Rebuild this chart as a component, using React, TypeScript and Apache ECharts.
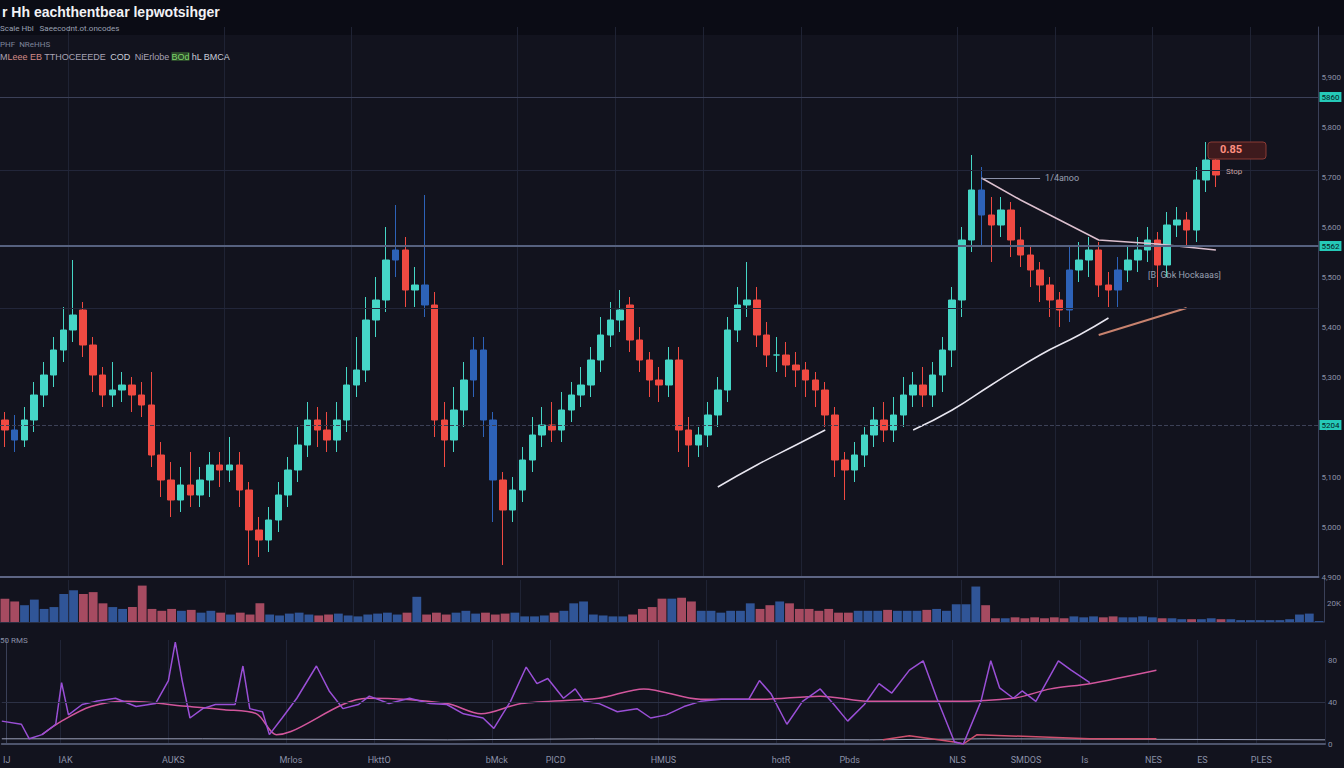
import { useEffect, useRef } from "react";
import * as echarts from "echarts";

// ---------- DATA ----------
const closes = [
  5194, 5174, 5214, 5264, 5304, 5354, 5394, 5424, 5364, 5304,
  5264, 5274, 5284, 5264, 5244, 5144, 5094, 5054, 5084, 5064,
  5094, 5124, 5114, 5124, 5074, 4994, 4974, 5014, 5064, 5114,
  5164, 5214, 5194, 5174, 5214, 5284, 5314, 5414, 5454, 5534,
  5554, 5474, 5484, 5444, 5214, 5174, 5234, 5294, 5354, 5214,
  5094, 5034, 5074, 5134, 5184, 5204, 5194, 5234, 5264, 5284,
  5334, 5384, 5414, 5434, 5374, 5334, 5294, 5284, 5334, 5194,
  5164, 5184, 5224, 5274, 5394, 5444, 5454, 5384, 5344, 5344,
  5324, 5314, 5294, 5274, 5224, 5134, 5114, 5144, 5184, 5214,
  5194, 5224, 5264, 5284, 5264, 5304, 5354, 5454, 5574, 5674,
  5624, 5604, 5634, 5574, 5544, 5514, 5484, 5454, 5434, 5514,
  5534, 5554, 5484, 5474, 5514, 5534, 5554, 5574, 5524, 5604,
  5614, 5594, 5694, 5734, 5704,
];
const opens = [
  5214, 5194, 5174, 5214, 5264, 5304, 5354, 5394, 5434, 5364,
  5304, 5264, 5274, 5284, 5264, 5244, 5144, 5094, 5054, 5084,
  5064, 5094, 5124, 5114, 5124, 5074, 4994, 4974, 5014, 5064,
  5114, 5164, 5214, 5194, 5174, 5214, 5284, 5314, 5414, 5454,
  5534, 5554, 5474, 5484, 5444, 5214, 5174, 5234, 5294, 5354,
  5214, 5094, 5034, 5074, 5134, 5184, 5204, 5194, 5234, 5264,
  5284, 5334, 5384, 5414, 5444, 5374, 5334, 5294, 5284, 5334,
  5194, 5164, 5184, 5224, 5274, 5394, 5444, 5454, 5384, 5344,
  5344, 5324, 5314, 5294, 5274, 5224, 5134, 5114, 5144, 5184,
  5214, 5194, 5224, 5264, 5284, 5264, 5304, 5354, 5454, 5574,
  5674, 5624, 5604, 5634, 5574, 5544, 5514, 5484, 5454, 5434,
  5514, 5534, 5554, 5484, 5474, 5514, 5534, 5554, 5574, 5524,
  5604, 5614, 5594, 5694, 5734,
];
const highs = [
  5230, 5224, 5240, 5290, 5330, 5380, 5440, 5534, 5450, 5380,
  5320, 5330, 5310, 5300, 5290, 5310, 5170, 5130, 5120, 5150,
  5120, 5150, 5150, 5180, 5150, 5090, 5020, 5040, 5090, 5140,
  5200, 5250, 5240, 5230, 5250, 5320, 5380, 5460, 5500, 5600,
  5644, 5580, 5520, 5664, 5470, 5250, 5280, 5330, 5380, 5380,
  5230, 5110, 5100, 5160, 5220, 5240, 5250, 5270, 5290, 5320,
  5360, 5420, 5450, 5474, 5460, 5400, 5350, 5320, 5360, 5360,
  5220, 5200, 5250, 5300, 5420, 5480, 5530, 5480, 5410, 5380,
  5370, 5350, 5330, 5310, 5290, 5240, 5150, 5170, 5200, 5240,
  5250, 5260, 5300, 5310, 5320, 5330, 5380, 5480, 5600, 5744,
  5720, 5660, 5660, 5650, 5600, 5560, 5530, 5500, 5470, 5560,
  5570, 5580, 5570, 5510, 5540, 5560, 5580, 5600, 5590, 5630,
  5640, 5630, 5720, 5770, 5750,
];
const lows = [
  5160, 5150, 5160, 5190, 5240, 5280, 5330, 5370, 5340, 5270,
  5240, 5240, 5250, 5230, 5220, 5120, 5060, 5020, 5030, 5040,
  5040, 5060, 5080, 5090, 5040, 4924, 4940, 4950, 4990, 5040,
  5090, 5140, 5160, 5150, 5150, 5190, 5260, 5290, 5380, 5430,
  5500, 5440, 5440, 5420, 5180, 5120, 5150, 5200, 5260, 5180,
  5010, 4924, 5010, 5050, 5110, 5160, 5170, 5170, 5210, 5240,
  5260, 5310, 5360, 5390, 5350, 5310, 5260, 5250, 5260, 5150,
  5120, 5140, 5160, 5200, 5250, 5370, 5420, 5360, 5320, 5310,
  5300, 5280, 5260, 5240, 5200, 5100, 5054, 5090, 5120, 5160,
  5170, 5170, 5200, 5240, 5240, 5240, 5270, 5320, 5420, 5550,
  5560, 5530, 5580, 5540, 5520, 5480, 5450, 5420, 5400, 5410,
  5490, 5500, 5460, 5440, 5440, 5490, 5510, 5530, 5480, 5500,
  5580, 5560, 5570, 5670, 5680,
];
const blueCandles = [1, 40, 43, 48, 49, 50, 100, 109, 114];

const volumes = [
  25, 22, 18, 24, 14, 16, 30, 34, 30, 32,
  20, 16, 14, 16, 39, 14, 12, 14, 12, 13,
  10, 12, 10, 8, 10, 8, 20, 8, 7, 9,
  10, 8, 7, 8, 9, 7, 6, 8, 9, 10,
  8, 10, 27, 8, 10, 8, 10, 12, 9, 10,
  8, 9, 10, 6, 6, 7, 10, 12, 20, 22,
  8, 7, 6, 6, 8, 14, 16, 25, 25, 26,
  22, 12, 12, 10, 12, 12, 20, 14, 18, 22,
  20, 14, 14, 12, 14, 10, 10, 12, 12, 12,
  13, 12, 12, 12, 13, 14, 12, 19, 19, 38,
  18, 4, 4, 5, 4, 5, 4, 5, 4, 6,
  5, 6, 5, 6, 5, 5, 6, 5, 4, 4,
  3, 3, 3, 4, 3, 3, 2, 2, 2, 2,
  2, 3, 8, 9, 1,
];

// oscillator lines: [bar position, value 0-100]
const purpleLine = [
  [-0.5, 22], [1.5, 19], [2.3, 5], [3.6, 9], [5.0, 19], [5.6, 59], [6.3, 28], [7.7, 38],
  [9.1, 41], [11.1, 44], [13.2, 36], [15.2, 39], [16.5, 61], [17.2, 98], [17.9, 61], [18.7, 25],
  [20.0, 34], [21.3, 38], [23.3, 38], [24.1, 75], [24.8, 34], [26.1, 31], [26.8, 9], [28.1, 25],
  [29.6, 44], [31.6, 75], [32.9, 51], [34.3, 34], [35.9, 38], [37.0, 46], [39.0, 39], [41.1, 44],
  [43.2, 39], [44.9, 38], [46.6, 29], [48.6, 25], [49.7, 15], [51.4, 41], [53.0, 74], [54.1, 58],
  [55.2, 63], [56.8, 44], [58.0, 53], [58.9, 41], [60.4, 39], [62.3, 31], [64.3, 34], [65.7, 25],
  [67.3, 28], [69.1, 36], [70.8, 41], [72.9, 43], [75.7, 43], [76.8, 61], [78.0, 48], [79.6, 19],
  [81.2, 41], [83.0, 53], [84.4, 38], [85.8, 22], [87.5, 38], [89.0, 58], [90.3, 49], [92.1, 71],
  [93.5, 80], [94.9, 44], [96.7, 2], [97.6, 0], [99.4, 41], [100.4, 80], [101.3, 54], [102.7, 44],
  [103.6, 51], [105.0, 41], [107.3, 80], [108.6, 71], [110.5, 59],
];
const pinkLine = [
  [3.6, 9], [5.6, 22], [8.6, 36], [12.2, 41], [18.7, 36], [22.2, 33], [25.5, 29], [27.5, 9],
  [29.0, 12], [36.8, 44], [44.9, 39], [48.4, 29], [52.5, 39], [60.4, 44], [65.0, 53], [70.8, 43],
  [76.9, 43], [83.0, 46], [88.1, 41], [96.3, 41], [102.7, 44], [106.5, 53], [110.5, 58], [117.3, 71],
];
const pinkLow = [
  [89.4, 4], [92.1, 8], [96.7, 2], [97.6, 0], [99.0, 9], [110.5, 5], [117.3, 5],
];
const grayLow = [
  [-0.5, 5], [20, 5], [45, 4], [60, 5], [88, 4], [100, 5], [134.5, 4],
];

// drawn trend lines on price chart: [bar index, price]
const trendA = [[73, 5080], [77, 5124], [81, 5164], [84, 5194]];
const trendB = [[93, 5194], [97, 5234], [101, 5284], [106, 5344], [110, 5384], [113, 5418]];
const trendC = [[112, 5384], [116, 5408], [121, 5438]];
const trendD = [[100, 5698], [104, 5654], [112, 5574], [118, 5566], [124, 5554]];

const priceTags = [5860, 5562, 5204];
const faintLevels = [5714, 5438];

const tickLabels: Record<number, string> = {
  0: "IJ", 6: "IAK", 17: "AUKS", 29: "Mrlos", 38: "HkttO", 50: "bMck", 56: "PICD",
  67: "HMUS", 79: "hotR", 86: "Pbds", 97: "NLS", 104: "SMDOS", 110: "Is", 117: "NES",
  122: "ES", 128: "PLES",
};
const mainVLines = [7, 23, 36, 53, 63, 72, 82, 98, 108, 118, 128];
const N = 135;
const categories = Array.from({ length: N }, (_, i) => `B${i + 1}`);

// ---------- STYLE ----------
const BG = "#12131e";
const UP = "#45d6c6";
const DOWN = "#f04a42";
const BLUE = "#2d62b8";
const AXIS_TXT = "#8a90a6";

export default function App() {
  const ref = useRef<HTMLDivElement>(null);

  useEffect(() => {
    document.body.style.margin = "0";
    document.body.style.background = BG;
    const chart = echarts.init(ref.current!, undefined, { renderer: "svg" });

    const candleData = closes.map((c, i) => {
      const o = opens[i];
      const v = [o, c, Math.min(lows[i], o, c), Math.max(highs[i], o, c)];
      if (blueCandles.includes(i)) {
        return { value: v, itemStyle: { color: BLUE, color0: BLUE, borderColor: BLUE, borderColor0: BLUE } };
      }
      return v;
    });
    const volData = volumes.map((v, i) => ({
      value: v,
      itemStyle: {
        color: i < closes.length && closes[i] < opens[i] ? "#cc5a72" : "#3867b5",
        opacity: 0.8,
      },
    }));

    const tagLabel = (v: number) => ({
      show: true,
      position: "end",
      distance: 1,
      formatter: String(v),
      backgroundColor: "#25c9b8",
      color: "#06201d",
      fontSize: 8,
      padding: [1, 2],
    });

    chart.setOption({
      animation: false,
      backgroundColor: BG,
      textStyle: { fontFamily: "Roboto" },
      graphic: [
        { type: "rect", z: -10, shape: { x: 0, y: 0, width: 1344, height: 35 }, style: { fill: "#0b0c15" } },
        {
          type: "text", z: 10, x: 2, y: 5,
          style: { text: "r Hh eachthentbear lepwotsihger", fill: "#f2f2f6", font: 'bold 14px "Liberation Sans"' },
        },
        {
          type: "text", z: 10, x: 0, y: 24,
          style: { text: "Scale Hbl   Saeecodnt.ot.oncodes", fill: "#9aa0b2", font: "8px Roboto" },
        },
        {
          type: "text", z: 10, x: 0, y: 40,
          style: { text: "PHF  NReHHS", fill: "#7f859a", font: "8px Roboto" },
        },
        {
          type: "text", z: 10, x: 0, y: 52,
          style: {
            text: "{a|M}{r|Leee EB} {a|TTHOCEEEDE}  {w|COD}  {a|NiErlobe} {g|BOd} {w|hL BMCA}",
            font: "9px Roboto",
            rich: {
              a: { fill: "#a9a3b4", fontSize: 9 },
              r: { fill: "#d48a86", fontSize: 9 },
              w: { fill: "#c8ccd8", fontSize: 9 },
              g: { fill: "#7fd46a", fontSize: 9, backgroundColor: "#2b4a2a" },
            },
          },
        },
        {
          type: "rect", z: 10, shape: { x: 1208, y: 142, width: 58, height: 17, r: 3 },
          style: { fill: "#3e1a1d", stroke: "#8a3a34", lineWidth: 1 },
        },
        {
          type: "text", z: 11, x: 1220, y: 144,
          style: { text: "0.85", fill: "#ff8f80", font: "bold 11px Roboto" },
        },
        {
          type: "text", z: 11, x: 1226, y: 167,
          style: { text: "Stop", fill: "#c7a3a3", font: "8px Roboto" },
        },
        {
          type: "text", z: 11, x: 1148, y: 270,
          style: { text: "[B  Gbk Hockaaas]", fill: "#9aa0b2", font: "9px Roboto" },
        },
        {
          type: "text", z: 11, x: 0, y: 636,
          style: { text: "50 RMS", fill: "#8a90a6", font: "8px Roboto" },
        },
      ],
      grid: [
        { left: 0, right: 19, top: 27, height: 550 },
        { left: 0, right: 19, top: 580, height: 42 },
        { left: 0, right: 19, top: 640, height: 104 },
      ],
      xAxis: [
        {
          type: "category", gridIndex: 0, data: categories,
          axisLabel: { show: false }, axisTick: { show: false },
          axisLine: { lineStyle: { color: "#5d6584", width: 2 } },
          splitLine: { show: true, interval: (i: number) => mainVLines.includes(i), lineStyle: { color: "#1f2334" } },
        },
        {
          type: "category", gridIndex: 1, data: categories,
          axisLabel: { show: false }, axisTick: { show: false },
          axisLine: { lineStyle: { color: "#2a2f42" } },
          splitLine: { show: true, interval: (i: number) => mainVLines.includes(i), lineStyle: { color: "#1f2334" } },
        },
        {
          type: "category", gridIndex: 2, data: categories,
          axisTick: { show: false },
          axisLine: { lineStyle: { color: "#4d546c", width: 2 } },
          axisLabel: {
            color: AXIS_TXT, fontSize: 9, margin: 11,
            interval: (i: number) => tickLabels[i] !== undefined,
            formatter: (_v: string, i: number) => tickLabels[i] ?? "",
          },
          splitLine: { show: true, interval: (i: number) => tickLabels[i] !== undefined && i > 0, lineStyle: { color: "#202436" } },
        },
        { type: "value", gridIndex: 2, min: -0.5, max: 134.5, show: false },
      ],
      yAxis: [
        {
          type: "value", gridIndex: 0, position: "right", min: 4900, max: 6000, interval: 100,
          axisLine: { show: true, lineStyle: { color: "#3a4058" } },
          axisTick: { show: false },
          splitLine: { show: false },
          axisLabel: { color: AXIS_TXT, fontSize: 8, margin: 3, showMaxLabel: false },
        },
        {
          type: "value", gridIndex: 1, position: "right", min: 0, max: 45, interval: 20,
          axisLine: { show: true, lineStyle: { color: "#3a4058" } },
          axisTick: { show: false }, splitLine: { show: false },
          axisLabel: { color: AXIS_TXT, fontSize: 8, margin: 3, formatter: (v: number) => (v === 20 ? "20K" : "") },
        },
        {
          type: "value", gridIndex: 2, position: "right", min: 0, max: 100, interval: 40,
          axisLine: { show: true, lineStyle: { color: "#3a4058" } },
          axisTick: { show: false }, splitLine: { show: false },
          axisLabel: { color: AXIS_TXT, fontSize: 8, margin: 3, showMaxLabel: false },
        },
      ],
      series: [
        {
          type: "candlestick", xAxisIndex: 0, yAxisIndex: 0, data: candleData,
          barWidth: 7,
          itemStyle: { color: UP, color0: DOWN, borderColor: UP, borderColor0: DOWN, borderWidth: 1 },
          markLine: {
            silent: true, symbol: "none",
            data: [
              ...faintLevels.map((v) => ({ yAxis: v, label: { show: false }, lineStyle: { color: "#22263a", width: 1, type: "solid" } })),
              { yAxis: priceTags[0], label: tagLabel(priceTags[0]), lineStyle: { color: "#3b4058", width: 1, type: "solid" } },
              { yAxis: priceTags[1], label: tagLabel(priceTags[1]), lineStyle: { color: "#56617f", width: 2, type: "solid" } },
              { yAxis: priceTags[2], label: tagLabel(priceTags[2]), lineStyle: { color: "#3c4157", width: 1, type: "dashed" } },
              [
                { coord: [100, 5698] },
                {
                  coord: [106, 5698],
                  label: { show: true, position: "end", formatter: "1/4anoo", color: "#9aa0b2", fontSize: 9 },
                },
              ],
            ],
            lineStyle: { color: "#8b91a8", width: 1, type: "solid" },
          },
        },
        {
          type: "line", xAxisIndex: 0, yAxisIndex: 0, data: trendA, symbol: "none", smooth: true,
          lineStyle: { color: "#e8e6f0", width: 1.5 },
        },
        {
          type: "line", xAxisIndex: 0, yAxisIndex: 0, data: trendB, symbol: "none", smooth: true,
          lineStyle: { color: "#e8e6f0", width: 1.5 },
        },
        {
          type: "line", xAxisIndex: 0, yAxisIndex: 0, data: trendC, symbol: "none", smooth: true,
          lineStyle: { color: "#c8826e", width: 2 },
        },
        {
          type: "line", xAxisIndex: 0, yAxisIndex: 0, data: trendD, symbol: "none",
          lineStyle: { color: "#dcc0cf", width: 1.5 },
        },
        {
          type: "bar", xAxisIndex: 1, yAxisIndex: 1, data: volData, barCategoryGap: "10%",
        },
        {
          type: "line", xAxisIndex: 3, yAxisIndex: 2, data: grayLow, symbol: "none",
          lineStyle: { color: "#9aa0b8", width: 1 },
          markLine: {
            silent: true, symbol: "none", label: { show: false },
            data: [{ yAxis: 40 }], lineStyle: { color: "#2c3145", width: 1, type: "solid" },
          },
        },
        {
          type: "line", xAxisIndex: 3, yAxisIndex: 2, data: pinkLow, symbol: "none",
          lineStyle: { color: "#d0506e", width: 1.5 },
        },
        {
          type: "line", xAxisIndex: 3, yAxisIndex: 2, data: pinkLine, symbol: "none", smooth: 0.3,
          lineStyle: { color: "#d2569c", width: 1.5 },
        },
        {
          type: "line", xAxisIndex: 3, yAxisIndex: 2, data: purpleLine, symbol: "none",
          lineStyle: { color: "#9a4fd6", width: 1.5 },
        },
      ],
    });

    return () => chart.dispose();
  }, []);

  return <div ref={ref} style={{ width: 1344, height: 768 }} />;
}
